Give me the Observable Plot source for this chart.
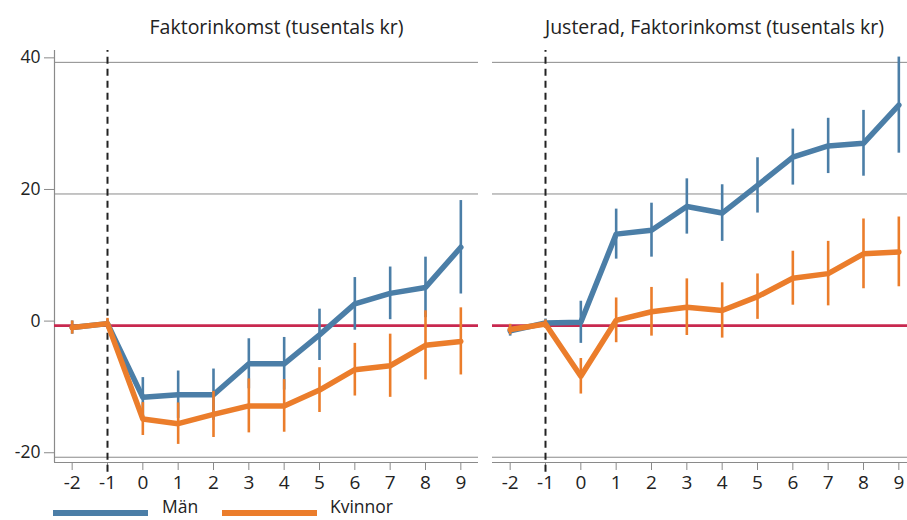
<!DOCTYPE html>
<html>
<head>
<meta charset="utf-8">
<script src="https://cdn.jsdelivr.net/npm/d3@7"></script>
<script src="https://cdn.jsdelivr.net/npm/@observablehq/plot@0.6"></script>
<style>
  html, body { margin: 0; padding: 0; background: white; overflow: hidden; }
  #chart svg { display: block; max-width: none !important; }
  #legend { position: relative; height: 20px; font-family: "Open Sans", sans-serif; font-size: 17.5px; color: #222; line-height: 17.5px; }
  #legend .sw { position: absolute; height: 6px; }
  #legend .tx { position: absolute; }
</style>
</head>
<body>
<div id="chart"></div>
<div id="legend"></div>
<script>
const panels = ["Faktorinkomst (tusentals kr)", "Justerad, Faktorinkomst (tusentals kr)"];
const groups = ["Män", "Kvinnor"];
const years = [-2, -1, 0, 1, 2, 3, 4, 5, 6, 7, 8, 9];
const yTicks = [-20, 0, 20, 40];

// Panel 1: Faktorinkomst
const leftMen      = [-0.3, 0.3, -10.9, -10.5, -10.5, -5.8, -5.8, -1.4, 3.3, 4.9, 5.8, 11.9];
const leftMenErr   = [1.0, 0.6, 3.0, 3.6, 3.9, 3.8, 4.0, 3.9, 4.0, 4.0, 4.6, 7.1];
const leftWomen    = [-0.3, 0.3, -14.2, -14.9, -13.5, -12.2, -12.2, -9.8, -6.7, -6.1, -3.0, -2.4];
const leftWomenErr = [1.0, 0.8, 2.5, 3.15, 3.5, 4.1, 4.0, 3.4, 4.0, 4.8, 5.25, 5.1];
// Panel 2: Justerad, Faktorinkomst
const rightMen      = [-0.8, 0.4, 0.5, 13.9, 14.5, 18.1, 17.1, 21.3, 25.6, 27.3, 27.7, 33.5];
const rightMenErr   = [0.8, 0.6, 3.2, 3.8, 4.1, 4.2, 4.3, 4.2, 4.25, 4.2, 5.0, 7.3];
const rightWomen    = [-0.6, 0.25, -7.7, 0.8, 2.1, 2.8, 2.3, 4.4, 7.2, 7.9, 10.9, 11.2];
const rightWomenErr = [0.8, 0.6, 2.7, 3.4, 3.7, 4.3, 4.2, 3.45, 4.1, 4.9, 5.3, 5.3];

const blue = "#4b7ea7", orange = "#eb7d2b", red = "#c8284f", grey = "#8a8a8a";

function rows(panel, group, vals, errs) {
  return years.map((yr, i) => ({panel, group, year: yr, value: vals[i], lo: vals[i] - errs[i], hi: vals[i] + errs[i]}));
}
const men = [...rows(panels[0], groups[0], leftMen, leftMenErr), ...rows(panels[1], groups[0], rightMen, rightMenErr)];
const women = [...rows(panels[0], groups[1], leftWomen, leftWomenErr), ...rows(panels[1], groups[1], rightWomen, rightWomenErr)];

const xDom = [-2.5, 9.5];
const yDom = [-20.8, 41.8];
const hyphen = d => String(d);

const chart = Plot.plot({
  width: 920,
  height: 500,
  marginLeft: 53,
  marginRight: 4,
  marginTop: 50,
  marginBottom: 38,
  style: {fontFamily: "'Open Sans', sans-serif", fontSize: "16px", color: "#222", background: "white", overflow: "visible", maxWidth: "none"},
  fx: {domain: panels, paddingInner: 0.032, paddingOuter: 0, label: null},
  x: {domain: xDom, label: null},
  y: {domain: yDom, label: null},
  color: {domain: groups, range: [blue, orange]},
  marks: [
    Plot.gridY([-20, 20, 40], {stroke: grey, strokeOpacity: 1, strokeWidth: 1}),
    Plot.ruleY([yDom[0]], {stroke: grey, strokeWidth: 1.2}),
    Plot.ruleX([panels[0]], {fx: d => d, x: () => xDom[0], y1: () => yDom[0], y2: () => yDom[1], stroke: grey, strokeWidth: 1.2}),
    Plot.axisY({ticks: yTicks, tickFormat: hyphen, tickSize: 10, tickPadding: 4, fontSize: 17.5, stroke: grey, dy: -4.5, label: null}),
    Plot.axisX({ticks: years, tickFormat: hyphen, tickSize: 8, tickPadding: 5, fontSize: 19, stroke: grey, label: null}),
    Plot.axisFx({anchor: "top", tickSize: 0, tickPadding: 17, fontSize: 19.5, dx: 10, label: null}),
    Plot.ruleY([0], {stroke: red, strokeWidth: 2.6}),
    Plot.ruleX([-1], {y1: -22.3, y2: yDom[1], stroke: "#222", strokeWidth: 2, strokeDasharray: "7,5"}),
    Plot.ruleX(men, {fx: "panel", x: "year", y1: "lo", y2: "hi", stroke: "group", strokeWidth: 2.6}),
    Plot.line(men, {fx: "panel", x: "year", y: "value", stroke: "group", strokeWidth: 5.5}),
    Plot.ruleX(women, {fx: "panel", x: "year", y1: "lo", y2: "hi", stroke: "group", strokeWidth: 2.6}),
    Plot.line(women, {fx: "panel", x: "year", y: "value", stroke: "group", strokeWidth: 5.5})
  ]
});
document.getElementById("chart").appendChild(chart);

const legend = document.getElementById("legend");
const legendItems = [
  {label: groups[0], color: blue, sw: 53, tx: 162},
  {label: groups[1], color: orange, sw: 222, tx: 330}
];
for (const it of legendItems) {
  const s = document.createElement("span");
  s.className = "sw";
  s.style.left = it.sw + "px";
  s.style.top = "10px";
  s.style.width = "95px";
  s.style.background = it.color;
  legend.appendChild(s);
  const t = document.createElement("span");
  t.className = "tx";
  t.style.left = it.tx + "px";
  t.style.top = "-2px";
  t.textContent = it.label;
  legend.appendChild(t);
}
</script>
</body>
</html>
